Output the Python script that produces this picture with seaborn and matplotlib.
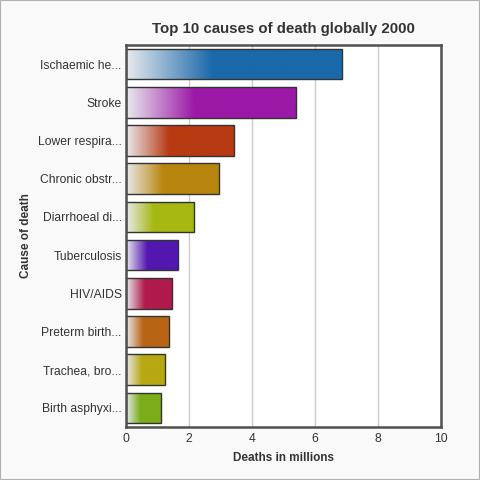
import numpy as np
import pandas as pd
import matplotlib
matplotlib.use("Agg")
import matplotlib.pyplot as plt
import matplotlib.colors as mcolors
from matplotlib.patches import Rectangle
import seaborn as sns

causes = ["Ischaemic he...", "Stroke", "Lower respira...", "Chronic obstr...",
          "Diarrhoeal di...", "Tuberculosis", "HIV/AIDS", "Preterm birth...",
          "Trachea, bro...", "Birth asphyxi..."]
deaths = [6.86, 5.40, 3.42, 2.94, 2.17, 1.66, 1.47, 1.35, 1.25, 1.12]
colors = ["#1a69aa", "#9b19a6", "#b83a12", "#b8860f", "#a6b812",
          "#5218b0", "#b01a4c", "#b86414", "#b8a812", "#7aad1a"]
x_ticks = [0, 2, 4, 6, 8, 10]

sns.set_theme(style="whitegrid")
plt.rcParams['font.family'] = ['Liberation Sans', 'DejaVu Sans']

df = pd.DataFrame({"cause": causes, "deaths": deaths})

fig = plt.figure(figsize=(4.8, 4.8), dpi=100, facecolor="#f9f9f9")
fig.patches.append(Rectangle((0, 0), 1, 1, transform=fig.transFigure,
                             fill=False, edgecolor="#b0b0b0", linewidth=1.5))
ax = fig.add_axes([126/480, 1-427/480, (441-126)/480, (427-45)/480])
ax.set_facecolor("white")

sns.barplot(data=df, x="deaths", y="cause", hue="cause", palette=colors,
            legend=False, orient="h", width=0.8, ax=ax,
            edgecolor="#333333", linewidth=1.0, saturation=1)

start = np.array(mcolors.to_rgb("#e9eaee"))
for patch, c in zip(ax.patches, colors):
    x0, y0 = patch.get_x(), patch.get_y()
    w, h = patch.get_width(), patch.get_height()
    end = np.array(mcolors.to_rgb(c))
    n = 200
    t = np.clip(np.linspace(0, 1, n) / 0.4, 0, 1)
    grad = start[None, :] * (1 - t[:, None]) + end[None, :] * t[:, None]
    img = ax.imshow(grad[None, :, :], extent=[x0, x0 + w, y0 + h, y0],
                    aspect="auto", zorder=1.5, interpolation="bilinear")
    img.set_clip_path(patch)
    patch.set_facecolor("none")
    patch.set_zorder(2)

ax.set_xlim(0, 10)
ax.set_ylim(len(causes) - 0.5, -0.5)
ax.set_xticks(x_ticks)
ax.set_xticklabels([str(v) for v in x_ticks])
ax.grid(axis="x", color="#cccccc", linewidth=1.0)
ax.grid(axis="y", visible=False)
for s in ax.spines.values():
    s.set_visible(True)
    s.set_color("#505050")
    s.set_linewidth(1.8)
ax.tick_params(axis="both", length=0, labelsize=8.7, colors="#333333")
ax.tick_params(axis="y", pad=3)
ax.tick_params(axis="x", pad=4)

ax.set_xlabel("Deaths in millions", fontsize=8.5, fontweight="bold",
              color="#333333", labelpad=5.5)
ax.set_ylabel("Cause of death", fontsize=8.5, fontweight="bold",
              color="#333333", labelpad=4)
ax.set_title("Top 10 causes of death globally 2000", fontsize=10.8,
             fontweight="bold", color="#333333", pad=9)

fig.savefig("out.png", dpi=100, facecolor=fig.get_facecolor())
